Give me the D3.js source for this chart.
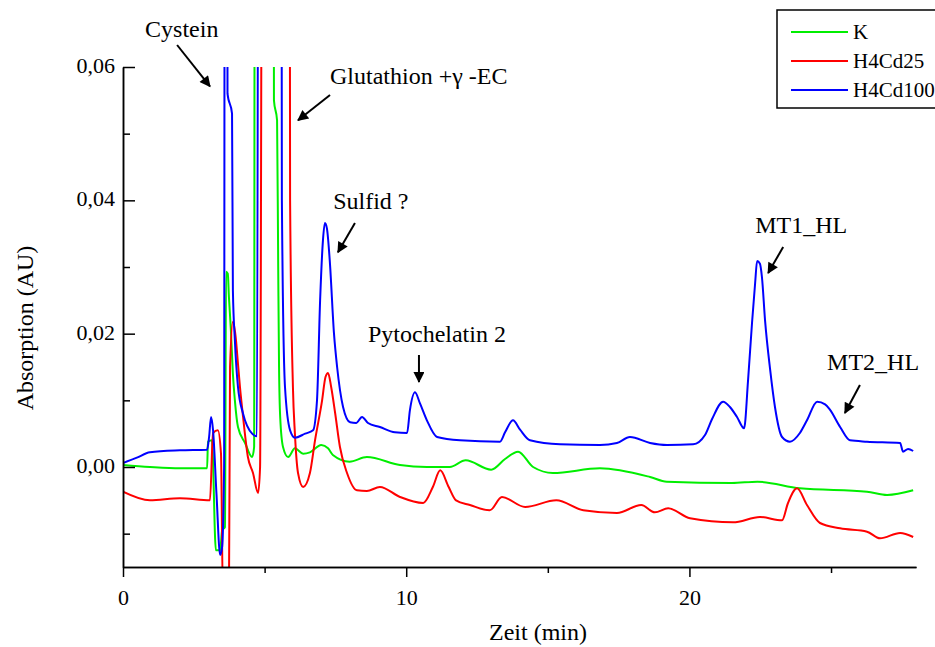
<!DOCTYPE html>
<html>
<head>
<meta charset="utf-8">
<script src="https://cdn.jsdelivr.net/npm/d3@7"></script>
<style>
  body { margin: 0; background: #fff; }
  svg { display: block; font-family: "Liberation Serif", "Times New Roman", serif; }
</style>
</head>
<body>
<div id="chart"></div>
<script>
// chromatogram data (time in min, absorption in AU)
var timeK = [0, 0.95, 2.01, 2.97, 3.0, 3.14, 3.28, 3.43, 3.5, 3.6, 3.64, 3.7, 3.74, 3.81, 3.88, 3.95, 4.06, 4.31, 4.56, 4.63, 4.66, 5.3, 5.33, 5.44, 5.48, 5.51, 5.55, 5.65, 5.83, 6.07, 6.36, 6.6, 7.0, 7.24, 7.41, 8.0, 8.61, 9.78, 10.73, 11.54, 12.1, 13.0, 13.49, 13.95, 14.48, 15.18, 16.84, 18.61, 19.2, 21.5, 22.4, 23.9, 26.27, 26.98, 27.9];
var absK = [0.0003, 0.0, -0.0002, -0.0002, 0.0038, 0.004, -0.0125, -0.0125, -0.0095, -0.009, 0.0293, 0.029, 0.0255, 0.0205, 0.014, 0.01, 0.006, 0.0036, 0.0015, 0.003, 0.15, 0.15, 0.055, 0.052, 0.03, 0.015, 0.0075, 0.003, 0.0015, 0.0028, 0.002, 0.0022, 0.0033, 0.0028, 0.0018, 0.0008, 0.0015, 0.0003, 0.0, 0.0, 0.001, -0.0004, 0.0012, 0.0023, 0.0, -0.0009, -0.0002, -0.0015, -0.0022, -0.0024, -0.0022, -0.0032, -0.0037, -0.0042, -0.0035];

var timeCd25 = [0, 0.95, 2.01, 3.07, 3.18, 3.35, 3.46, 3.53, 3.74, 3.78, 3.88, 3.99, 4.03, 4.13, 4.24, 4.41, 4.59, 4.77, 4.84, 4.94, 5.87, 5.9, 6.0, 6.07, 6.18, 6.36, 6.6, 6.78, 7.03, 7.15, 7.24, 7.35, 7.49, 7.66, 7.91, 8.26, 8.61, 9.07, 9.78, 10.6, 10.94, 11.2, 11.5, 11.76, 12.25, 12.95, 13.38, 14.2, 15.3, 16.25, 17.44, 18.3, 18.78, 19.25, 20.02, 21.54, 22.49, 23.27, 23.48, 23.8, 24.15, 24.61, 25.32, 26.27, 26.73, 27.44, 27.9];
var absCd25 = [-0.0037, -0.005, -0.0047, -0.005, 0.0051, 0.0055, 0.002, -0.02, -0.02, 0.015, 0.0218, 0.019, 0.017, 0.012, 0.0075, 0.0015, -0.0009, -0.0039, 0.0, 0.15, 0.15, 0.04, 0.012, 0.005, -0.0009, -0.003, -0.0009, 0.004, 0.01, 0.0135, 0.0141, 0.012, 0.0081, 0.003, -0.0009, -0.0035, -0.0036, -0.003, -0.0045, -0.0054, -0.003, -0.0005, -0.003, -0.005, -0.0057, -0.0065, -0.0045, -0.006, -0.005, -0.0065, -0.0069, -0.0057, -0.0068, -0.0062, -0.0077, -0.0083, -0.0075, -0.008, -0.0054, -0.0032, -0.0057, -0.0084, -0.0092, -0.0097, -0.0107, -0.0099, -0.0105];

var timeCd100 = [0, 0.49, 0.95, 2.01, 2.97, 3.04, 3.11, 3.18, 3.3, 3.43, 3.5, 3.57, 3.6, 3.67, 3.69, 3.85, 3.88, 3.95, 4.06, 4.24, 4.56, 4.73, 4.8, 5.58, 5.61, 5.72, 5.9, 6.07, 6.43, 6.71, 6.85, 6.96, 7.06, 7.13, 7.2, 7.3, 7.45, 7.56, 7.77, 8.02, 8.23, 8.44, 8.65, 9.07, 9.6, 10.03, 10.13, 10.31, 10.49, 10.73, 11.09, 11.9, 13.31, 13.49, 13.77, 14.02, 14.37, 15.43, 16.84, 17.44, 17.9, 18.61, 19.21, 20.13, 20.55, 20.8, 21.19, 21.43, 21.68, 21.93, 22.07, 22.21, 22.32, 22.39, 22.49, 22.56, 22.67, 22.85, 23.02, 23.27, 23.55, 23.9, 24.15, 24.51, 24.79, 24.96, 25.32, 25.67, 26.27, 27.44, 27.54, 27.72, 27.9];
var absCd100 = [0.0006, 0.0014, 0.0022, 0.0025, 0.0026, 0.0045, 0.0075, 0.0055, -0.004, -0.0132, -0.012, 0.0, 0.15, 0.15, 0.056, 0.053, 0.0265, 0.019, 0.012, 0.008, 0.005, 0.0046, 0.15, 0.15, 0.04, 0.012, 0.0055, 0.0044, 0.005, 0.0055, 0.01, 0.025, 0.034, 0.0366, 0.0358, 0.031, 0.02, 0.015, 0.009, 0.0067, 0.0066, 0.0075, 0.0066, 0.006, 0.0052, 0.0051, 0.0085, 0.0112, 0.0095, 0.007, 0.0045, 0.004, 0.0038, 0.0052, 0.007, 0.0056, 0.004, 0.0034, 0.0033, 0.0036, 0.0045, 0.0036, 0.0033, 0.0034, 0.0048, 0.0072, 0.0098, 0.009, 0.0075, 0.0058, 0.013, 0.0216, 0.0276, 0.0309, 0.0305, 0.0285, 0.022, 0.0146, 0.009, 0.0045, 0.0038, 0.0051, 0.007, 0.0098, 0.0094, 0.0086, 0.006, 0.004, 0.0038, 0.0036, 0.0023, 0.0027, 0.0024];

var seriesNames = ["K", "H4Cd25", "H4Cd100"];
var seriesColors = ["#00ee00", "#ff0000", "#0000ff"];

var xMajor = [0, 10, 20];
var xMinor = [5, 15, 25];
var yMajor = [0, 0.02, 0.04, 0.06];
var yMinor = [-0.01, 0.01, 0.03, 0.05];

// peak labels: text anchor (t, v) and arrow from -> to, in data units
var noteText = ["Cystein", "Glutathion +\u03b3 -EC", "Sulfid ?", "Pytochelatin 2", "MT1_HL", "MT2_HL"];
var noteAt = [[0.78, 0.0645], [7.31, 0.0574], [7.42, 0.0387], [8.65, 0.01875], [22.32, 0.0351], [24.86, 0.01455]];
var arrowFrom = [[1.91, 0.0633], [7.31, 0.0558], [8.19, 0.0366], [10.45, 0.0168], [23.31, 0.033], [26.02, 0.0123]];
var arrowTo = [[3.07, 0.0571], [6.18, 0.052], [7.59, 0.0322], [10.45, 0.01275], [22.78, 0.0291], [25.49, 0.0081]];

var width = 935, height = 647;
var svg = d3.select("#chart").append("svg")
    .attr("width", width)
    .attr("height", height);

var x = d3.scaleLinear().domain([0, 28]).range([123, 916]);
var y = d3.scaleLinear().domain([-0.015, 0.06]).range([567, 67]);

svg.append("defs").append("clipPath").attr("id", "plot")
  .append("rect")
    .attr("x", x(0)).attr("y", y(0.06))
    .attr("width", x(28) - x(0)).attr("height", y(-0.015) - y(0.06));

var marker = svg.select("defs").append("marker")
    .attr("id", "head")
    .attr("viewBox", "0 0 10 10")
    .attr("refX", 9).attr("refY", 5)
    .attr("markerWidth", 7).attr("markerHeight", 5.5)
    .attr("markerUnits", "strokeWidth")
    .attr("orient", "auto");
marker.append("path").attr("d", "M0,0L10,5L0,10Z").attr("fill", "#000");

var series = [
  {t: timeK, v: absK},
  {t: timeCd25, v: absCd25},
  {t: timeCd100, v: absCd100}
];

var line = d3.line()
    .curve(d3.curveMonotoneX)
    .x(d => x(d[0]))
    .y(d => y(d[1]));

svg.append("g")
    .attr("clip-path", "url(#plot)")
  .selectAll("path")
  .data(series)
  .enter()
  .append("path")
    .attr("fill", "none")
    .attr("stroke", (d, i) => seriesColors[i])
    .attr("stroke-width", 2)
    .attr("stroke-linejoin", "round")
    .attr("d", d => line(d.t.map((t, i) => [t, d.v[i]])));

// axes
var fmt = d3.formatLocale({decimal: ",", thousands: ".", grouping: [3], currency: ["", ""]}).format(".2f");

var xAxis = svg.append("g").attr("transform", `translate(0,${y(-0.015)})`);
xAxis.call(d3.axisBottom(x).tickValues(xMajor).tickSize(10).tickSizeOuter(0).tickPadding(8));
xAxis.append("g").call(d3.axisBottom(x).tickValues(xMinor).tickSize(6).tickSizeOuter(0).tickFormat(""));

var yAxis = svg.append("g").attr("transform", `translate(${x(0)},0)`);
yAxis.call(d3.axisLeft(y).tickValues(yMajor).tickSize(-12).tickSizeOuter(0).tickPadding(8).tickFormat(fmt));
yAxis.append("g").call(d3.axisLeft(y).tickValues(yMinor).tickSize(-7).tickSizeOuter(0).tickFormat(""));

svg.selectAll(".domain, .tick line").attr("stroke", "#000").attr("stroke-width", 1.5);
xAxis.selectAll("text").attr("font-size", 22).attr("font-family", "Liberation Serif").attr("fill", "#000").attr("dy", "0.9em");
yAxis.selectAll("text").attr("font-size", 22).attr("font-family", "Liberation Serif").attr("fill", "#000").attr("dy", "0.25em");

svg.append("text")
    .attr("x", 538).attr("y", 640)
    .attr("text-anchor", "middle")
    .attr("font-size", 24)
    .text("Zeit (min)");
svg.append("text")
    .attr("transform", "translate(33,328) rotate(-90)")
    .attr("text-anchor", "middle")
    .attr("font-size", 24)
    .text("Absorption (AU)");

// annotations
var notes = svg.append("g");
notes.selectAll("text")
  .data(noteText)
  .enter()
  .append("text")
    .attr("x", (d, i) => x(noteAt[i][0]))
    .attr("y", (d, i) => y(noteAt[i][1]))
    .attr("font-size", 24)
    .text(d => d);
notes.selectAll("line")
  .data(arrowFrom)
  .enter()
  .append("line")
    .attr("x1", d => x(d[0])).attr("y1", d => y(d[1]))
    .attr("x2", (d, i) => x(arrowTo[i][0])).attr("y2", (d, i) => y(arrowTo[i][1]))
    .attr("stroke", "#000")
    .attr("stroke-width", 2)
    .attr("marker-end", "url(#head)");

// legend
var legend = svg.append("g").attr("transform", "translate(777,10)");
legend.append("rect")
    .attr("width", 200).attr("height", 98)
    .attr("fill", "#fff")
    .attr("stroke", "#000")
    .attr("stroke-width", 1.5);
var item = legend.selectAll("g.item")
  .data(seriesNames)
  .enter()
  .append("g")
    .attr("class", "item")
    .attr("transform", (d, i) => `translate(0,${22 + i * 29})`);
item.append("line")
    .attr("x1", 14).attr("x2", 71)
    .attr("stroke", (d, i) => seriesColors[i])
    .attr("stroke-width", 2);
item.append("text")
    .attr("x", 76).attr("dy", "0.35em")
    .attr("font-size", 21)
    .text(d => d);
</script>
</body>
</html>
